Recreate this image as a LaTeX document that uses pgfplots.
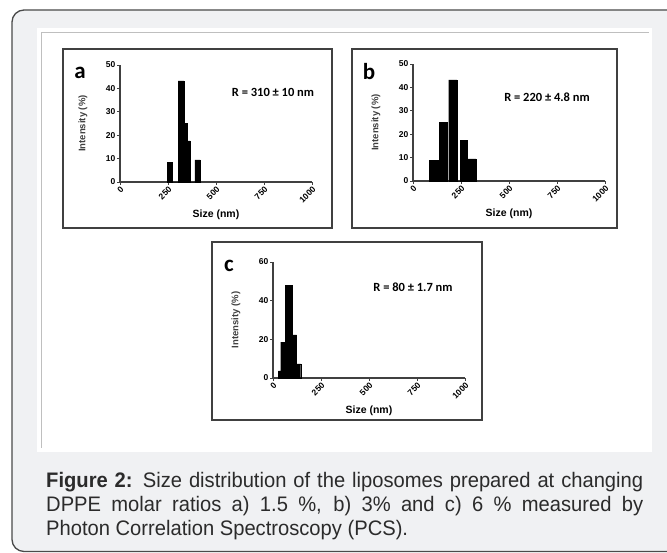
\documentclass[border=0pt]{standalone}
\usepackage{pgfplots}
\pgfplotsset{compat=1.18}
\usepackage{fontspec}
\setmainfont{Liberation Sans}
\newfontfamily\calfont{Carlito}
\newfontfamily\capfont[FakeStretch=0.96]{Liberation Sans}

\definecolor{bgframe}{HTML}{F0F1F3}
\definecolor{framecol}{HTML}{4A4A4A}
\definecolor{capcol}{HTML}{2B2B2B}

% shared look of the three PCS panels
\pgfplotsset{
  dls/.style={
    scale only axis, width=192pt, height=117pt, anchor=south west,
    axis lines*=left, xmin=0, xmax=1000, ymin=0, ymax=50,
    xtick={0,250,500,750,1000},
    tick align=outside, major tick length=3pt,
    axis line style={black!75, line width=1.1pt},
    tick style={black!75, line width=0.9pt},
    /pgf/number format/assume math mode=true,
    /pgf/number format/1000 sep={},
    xticklabel style={rotate=45, anchor=north east, inner sep=0.5pt,
      font=\bfseries\fontsize{8.5}{9}\selectfont},
    yticklabel style={inner sep=1.5pt, font=\bfseries\fontsize{8.5}{9}\selectfont},
    xlabel={Size (nm)}, ylabel={Intensity (\%)},
    every axis x label/.style={at={([yshift=-33pt]axis description cs:0.5,0)},
      anchor=center, inner sep=0pt, font=\bfseries\fontsize{10.5}{12}\selectfont},
    every axis y label/.style={at={([xshift=-37pt]axis description cs:0,0.5)},
      anchor=center, rotate=90, inner sep=0pt, text=black!75,
      font=\bfseries\fontsize{9.5}{11}\selectfont},
    clip=false,
  },
  bars/.style={ybar interval, fill=black, draw=black, line width=0.3pt},
}

\begin{document}
\begin{tikzpicture}[x=1pt,y=1pt]
\path[use as bounding box] (0,0) rectangle (667,553);
\begin{scope}
\clip (0,0) rectangle (667,553);
\draw[framecol, line width=1.3pt, fill=bgframe, rounded corners=12pt] (12,1.5) rectangle (690,543);
\end{scope}
\fill[white] (37,101) rectangle (652,525);
\draw[black!25, line width=0.8pt] (41,105) -- (41,521) -- (649,521);

% panel frames
\draw[black!75, line width=1.8pt] (63,325) rectangle (332,504);
\draw[black!75, line width=1.8pt] (352,325) rectangle (617,504);
\draw[black!75, line width=1.8pt] (212,133) rectangle (482,311);

% (a) 1.5 % DPPE
\begin{axis}[dls, at={(120pt,371pt)}, ytick={0,10,20,30,40,50}]
\addplot[bars] coordinates {(245,8.5) (271,0) (303,43.2) (333,25.2) (348,17.6) (365,0) (390,9.5) (417,0)};
\end{axis}

% (b) 3 % DPPE
\begin{axis}[dls, at={(413pt,372pt)}, ytick={0,10,20,30,40,50}]
\addplot[bars] coordinates {(86,8.7) (129,0) (138,25.2) (178,0) (186,43.2) (229,0) (245,17.5) (284,9.5) (328,0)};
\end{axis}

% (c) 6 % DPPE
\begin{axis}[dls, at={(273pt,175pt)}, ymax=60, ytick={0,20,40,60}, height=116pt]
\addplot[bars] coordinates {(28,3.7) (40,18.6) (63,47.8) (102,22.3) (123,7.3) (144,0)};
\end{axis}

\node[font=\calfont\bfseries\fontsize{23}{23}\selectfont] at (80,480) {a};
\node[font=\calfont\bfseries\fontsize{23}{23}\selectfont] at (369,481) {b};
\node[font=\calfont\bfseries\fontsize{23}{23}\selectfont] at (229,287) {c};

\node[font=\calfont\bfseries\fontsize{12.5}{14}\selectfont] at (273,461) {R = 310 ± 10 nm};
\node[font=\calfont\bfseries\fontsize{12.5}{14}\selectfont] at (547,456) {R = 220 ± 4.8 nm};
\node[font=\calfont\bfseries\fontsize{12.5}{14}\selectfont] at (413,266) {R = 80 ± 1.7 nm};

\node[anchor=north west, inner sep=0pt, text width=597pt, align=justify, text=capcol,
  font=\capfont\fontsize{21}{24}\selectfont] at (46,81)
  {\textbf{Figure 2:} Size distribution of the liposomes prepared at changing\linebreak
   DPPE molar ratios a) 1.5 \%, b) 3\% and c) 6 \% measured by\linebreak
   Photon Correlation Spectroscopy (PCS).};
\end{tikzpicture}
\end{document}
